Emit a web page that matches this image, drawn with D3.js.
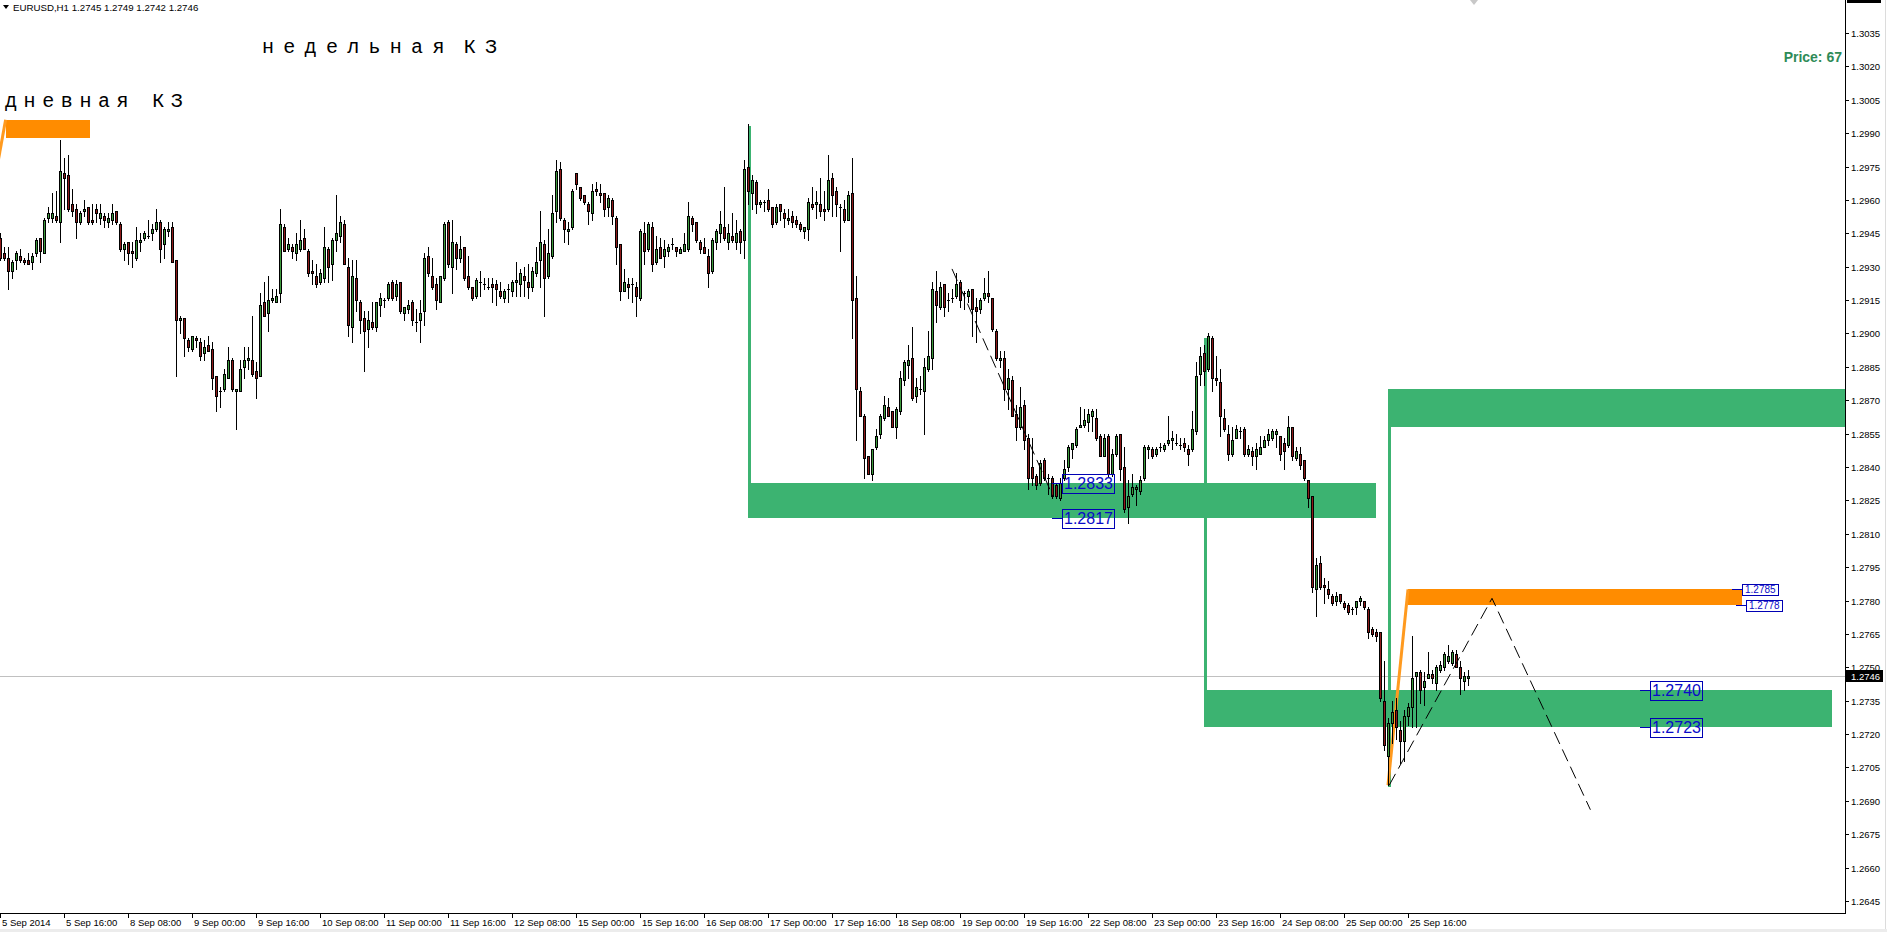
<!DOCTYPE html>
<html>
<head>
<meta charset="utf-8">
<script src="https://cdn.jsdelivr.net/npm/d3@7"></script>
<style>
  html, body { margin: 0; padding: 0; background: #fff; overflow: hidden; }
  svg { display: block; }
</style>
</head>
<body>
<script>
// chart frame
var W = 1887, H = 932,
  plotRight = 1845,
  plotBottom = 913;

// EURUSD H1 bars, [open, high, low, close]
var candles = [
  [1.2943,1.2945,1.2933,1.2934],[1.2936,1.2939,1.2933,1.2934],[1.2934,1.2939,1.2920,1.2928],[1.2928,1.2933,1.2925,1.2932],
  [1.2933,1.2937,1.2929,1.2936],[1.2935,1.2938,1.2932,1.2933],[1.2933,1.2934,1.2931,1.2932],[1.2933,1.2936,1.2931,1.2931],
  [1.2932,1.2936,1.2929,1.2935],[1.2936,1.2943,1.2935,1.2942],[1.2943,1.2943,1.2932,1.2937],[1.2936,1.2952,1.2936,1.2951],
  [1.2952,1.2957,1.2950,1.2954],[1.2952,1.2963,1.2950,1.2954],[1.2953,1.2964,1.2950,1.2951],[1.2950,1.2987,1.2941,1.2973],
  [1.2972,1.2979,1.2956,1.2970],[1.2971,1.2980,1.2955,1.2956],[1.2958,1.2965,1.2953,1.2955],[1.2956,1.2958,1.2943,1.2950],
  [1.2950,1.2955,1.2949,1.2954],[1.2955,1.2960,1.2953,1.2956],[1.2957,1.2957,1.2949,1.2950],[1.2951,1.2958,1.2949,1.2950],
  [1.2956,1.2958,1.2950,1.2954],[1.2952,1.2958,1.2949,1.2954],[1.2953,1.2954,1.2948,1.2951],[1.2950,1.2954,1.2948,1.2952],
  [1.2951,1.2958,1.2949,1.2954],[1.2955,1.2955,1.2949,1.2950],[1.2949,1.2950,1.2937,1.2938],[1.2938,1.2941,1.2933,1.2940],
  [1.2941,1.2941,1.2931,1.2936],[1.2937,1.2941,1.2930,1.2936],[1.2934,1.2948,1.2933,1.2942],[1.2941,1.2945,1.2937,1.2942],
  [1.2943,1.2946,1.2942,1.2945],[1.2944,1.2951,1.2943,1.2944],[1.2945,1.2949,1.2942,1.2947],[1.2947,1.2956,1.2946,1.2950],
  [1.2950,1.2951,1.2932,1.2938],[1.2940,1.2948,1.2934,1.2947],[1.2946,1.2950,1.2944,1.2947],[1.2948,1.2950,1.2932,1.2932],
  [1.2933,1.2933,1.2881,1.2906],[1.2906,1.2908,1.2900,1.2907],[1.2907,1.2907,1.2890,1.2898],[1.2897,1.2898,1.2892,1.2894],
  [1.2893,1.2899,1.2892,1.2899],[1.2898,1.2899,1.2894,1.2897],[1.2896,1.2898,1.2888,1.2890],[1.2891,1.2897,1.2888,1.2894],
  [1.2895,1.2899,1.2892,1.2892],[1.2893,1.2896,1.2875,1.2880],[1.2881,1.2881,1.2865,1.2872],[1.2874,1.2876,1.2867,1.2874],
  [1.2875,1.2884,1.2874,1.2882],[1.2880,1.2894,1.2880,1.2888],[1.2888,1.2889,1.2874,1.2875],[1.2874,1.2875,1.2857,1.2875],
  [1.2874,1.2888,1.2874,1.2884],[1.2885,1.2894,1.2880,1.2888],[1.2888,1.2894,1.2884,1.2889],[1.2888,1.2908,1.2881,1.2882],
  [1.2883,1.2887,1.2871,1.2880],[1.2881,1.2918,1.2881,1.2913],[1.2914,1.2923,1.2908,1.2908],[1.2909,1.2926,1.2901,1.2915],
  [1.2915,1.2920,1.2914,1.2916],[1.2914,1.2920,1.2914,1.2917],[1.2918,1.2956,1.2914,1.2949],[1.2948,1.2949,1.2937,1.2937],
  [1.2938,1.2943,1.2937,1.2940],[1.2939,1.2940,1.2934,1.2937],[1.2936,1.2945,1.2933,1.2940],[1.2938,1.2951,1.2937,1.2942],
  [1.2943,1.2947,1.2938,1.2938],[1.2937,1.2938,1.2926,1.2927],[1.2928,1.2933,1.2922,1.2927],[1.2926,1.2931,1.2921,1.2922],
  [1.2923,1.2929,1.2922,1.2927],[1.2925,1.2948,1.2923,1.2939],[1.2938,1.2939,1.2923,1.2930],[1.2931,1.2943,1.2924,1.2942],
  [1.2942,1.2962,1.2937,1.2945],[1.2944,1.2953,1.2941,1.2950],[1.2949,1.2951,1.2931,1.2931],[1.2930,1.2934,1.2899,1.2904],
  [1.2903,1.2933,1.2896,1.2926],[1.2925,1.2933,1.2910,1.2915],[1.2914,1.2915,1.2900,1.2906],[1.2907,1.2910,1.2883,1.2901],
  [1.2902,1.2910,1.2894,1.2906],[1.2905,1.2914,1.2902,1.2903],[1.2903,1.2914,1.2901,1.2914],[1.2913,1.2918,1.2908,1.2916],
  [1.2915,1.2916,1.2912,1.2915],[1.2916,1.2923,1.2915,1.2922],[1.2923,1.2924,1.2915,1.2916],[1.2917,1.2924,1.2915,1.2922],
  [1.2923,1.2923,1.2909,1.2910],[1.2909,1.2912,1.2906,1.2912],[1.2911,1.2915,1.2909,1.2913],[1.2914,1.2915,1.2904,1.2906],
  [1.2905,1.2911,1.2901,1.2905],[1.2906,1.2915,1.2896,1.2909],[1.2910,1.2936,1.2904,1.2934],[1.2935,1.2939,1.2926,1.2927],
  [1.2926,1.2934,1.2920,1.2921],[1.2922,1.2925,1.2911,1.2915],[1.2914,1.2926,1.2914,1.2926],[1.2925,1.2950,1.2924,1.2949],
  [1.2950,1.2951,1.2930,1.2931],[1.2930,1.2951,1.2918,1.2941],[1.2940,1.2941,1.2929,1.2934],[1.2934,1.2944,1.2932,1.2938],
  [1.2939,1.2939,1.2924,1.2925],[1.2926,1.2935,1.2920,1.2921],[1.2921,1.2921,1.2915,1.2916],[1.2917,1.2925,1.2916,1.2924],
  [1.2923,1.2928,1.2917,1.2923],[1.2922,1.2925,1.2920,1.2922],[1.2921,1.2925,1.2920,1.2921],[1.2922,1.2925,1.2914,1.2921],
  [1.2922,1.2924,1.2913,1.2920],[1.2919,1.2923,1.2916,1.2917],[1.2916,1.2920,1.2914,1.2919],[1.2920,1.2922,1.2914,1.2920],
  [1.2919,1.2924,1.2917,1.2923],[1.2923,1.2932,1.2917,1.2924],[1.2922,1.2929,1.2917,1.2927],[1.2926,1.2930,1.2917,1.2924],
  [1.2923,1.2931,1.2916,1.2921],[1.2921,1.2930,1.2919,1.2928],[1.2927,1.2939,1.2926,1.2932],[1.2933,1.2955,1.2921,1.2941],
  [1.2940,1.2942,1.2908,1.2925],[1.2926,1.2947,1.2925,1.2936],[1.2935,1.2962,1.2934,1.2954],[1.2955,1.2978,1.2950,1.2973],
  [1.2974,1.2977,1.2951,1.2952],[1.2951,1.2952,1.2941,1.2947],[1.2946,1.2950,1.2940,1.2947],[1.2948,1.2965,1.2947,1.2964],
  [1.2972,1.2972,1.2965,1.2967],[1.2966,1.2966,1.2960,1.2961],[1.2962,1.2962,1.2958,1.2959],[1.2958,1.2959,1.2949,1.2955],
  [1.2954,1.2967,1.2951,1.2964],[1.2965,1.2968,1.2962,1.2964],[1.2963,1.2967,1.2959,1.2962],[1.2963,1.2963,1.2953,1.2956],
  [1.2957,1.2962,1.2953,1.2961],[1.2960,1.2961,1.2949,1.2953],[1.2952,1.2953,1.2931,1.2939],[1.2940,1.2940,1.2915,1.2919],
  [1.2919,1.2929,1.2919,1.2923],[1.2922,1.2925,1.2916,1.2921],[1.2922,1.2925,1.2914,1.2922],[1.2921,1.2923,1.2908,1.2917],
  [1.2916,1.2947,1.2915,1.2946],[1.2945,1.2950,1.2931,1.2937],[1.2938,1.2950,1.2937,1.2949],[1.2948,1.2950,1.2928,1.2931],
  [1.2932,1.2944,1.2931,1.2938],[1.2939,1.2943,1.2934,1.2934],[1.2935,1.2942,1.2930,1.2938],[1.2937,1.2940,1.2935,1.2939],
  [1.2940,1.2943,1.2938,1.2940],[1.2939,1.2939,1.2935,1.2937],[1.2936,1.2939,1.2936,1.2938],[1.2937,1.2945,1.2937,1.2940],
  [1.2938,1.2959,1.2937,1.2953],[1.2952,1.2953,1.2946,1.2949],[1.2950,1.2950,1.2941,1.2942],[1.2941,1.2942,1.2936,1.2938],
  [1.2939,1.2943,1.2936,1.2936],[1.2935,1.2938,1.2921,1.2927],[1.2928,1.2943,1.2927,1.2942],[1.2941,1.2947,1.2938,1.2946],
  [1.2945,1.2955,1.2941,1.2949],[1.2948,1.2966,1.2942,1.2943],[1.2941,1.2949,1.2938,1.2945],[1.2944,1.2954,1.2941,1.2942],
  [1.2941,1.2951,1.2938,1.2945],[1.2946,1.2947,1.2936,1.2941],[1.2942,1.2978,1.2934,1.2974],[1.2975,1.2994,1.2958,1.2964],
  [1.2963,1.2971,1.2956,1.2969],[1.2968,1.2969,1.2954,1.2958],[1.2958,1.2960,1.2957,1.2959],[1.2959,1.2960,1.2955,1.2959],
  [1.2960,1.2965,1.2955,1.2956],[1.2957,1.2957,1.2948,1.2949],[1.2950,1.2958,1.2949,1.2957],[1.2958,1.2958,1.2951,1.2955],
  [1.2954,1.2956,1.2948,1.2952],[1.2951,1.2956,1.2949,1.2952],[1.2953,1.2955,1.2948,1.2950],[1.2951,1.2953,1.2948,1.2949],
  [1.2949,1.2950,1.2946,1.2947],[1.2946,1.2948,1.2943,1.2948],[1.2947,1.2961,1.2942,1.2959],[1.2958,1.2966,1.2956,1.2957],
  [1.2958,1.2964,1.2952,1.2959],[1.2958,1.2970,1.2953,1.2955],[1.2956,1.2964,1.2951,1.2955],[1.2956,1.2980,1.2955,1.2969],
  [1.2970,1.2972,1.2953,1.2962],[1.2964,1.2966,1.2953,1.2958],[1.2957,1.2958,1.2937,1.2957],[1.2956,1.2960,1.2950,1.2951],
  [1.2951,1.2964,1.2951,1.2962],[1.2963,1.2979,1.2898,1.2915],[1.2916,1.2926,1.2852,1.2875],[1.2874,1.2876,1.2863,1.2863],
  [1.2863,1.2864,1.2835,1.2844],[1.2845,1.2845,1.2837,1.2837],[1.2837,1.2848,1.2834,1.2848],[1.2849,1.2857,1.2848,1.2854],
  [1.2855,1.2864,1.2853,1.2863],[1.2862,1.2872,1.2861,1.2868],[1.2867,1.2871,1.2863,1.2863],[1.2865,1.2865,1.2858,1.2858],
  [1.2858,1.2867,1.2853,1.2866],[1.2865,1.2883,1.2864,1.2880],[1.2879,1.2888,1.2877,1.2887],[1.2886,1.2895,1.2880,1.2888],
  [1.2889,1.2903,1.2870,1.2871],[1.2872,1.2880,1.2869,1.2876],[1.2875,1.2881,1.2873,1.2875],[1.2874,1.2889,1.2855,1.2885],
  [1.2884,1.2901,1.2883,1.2890],[1.2889,1.2923,1.2884,1.2920],[1.2919,1.2928,1.2905,1.2913],[1.2912,1.2923,1.2911,1.2921],
  [1.2922,1.2922,1.2908,1.2912],[1.2915,1.2918,1.2910,1.2915],[1.2916,1.2920,1.2914,1.2916],[1.2917,1.2927,1.2916,1.2922],
  [1.2923,1.2924,1.2912,1.2915],[1.2918,1.2919,1.2911,1.2918],[1.2917,1.2920,1.2914,1.2919],[1.2920,1.2920,1.2899,1.2911],
  [1.2912,1.2916,1.2896,1.2910],[1.2911,1.2916,1.2909,1.2915],[1.2916,1.2925,1.2915,1.2918],[1.2918,1.2928,1.2914,1.2917],
  [1.2916,1.2916,1.2901,1.2902],[1.2901,1.2902,1.2888,1.2889],[1.2888,1.2892,1.2885,1.2889],[1.2889,1.2892,1.2870,1.2875],
  [1.2875,1.2884,1.2866,1.2880],[1.2879,1.2881,1.2863,1.2863],[1.2864,1.2868,1.2852,1.2858],[1.2858,1.2876,1.2857,1.2867],
  [1.2868,1.2870,1.2848,1.2852],[1.2853,1.2855,1.2830,1.2835],[1.2840,1.2853,1.2832,1.2835],[1.2836,1.2837,1.2830,1.2832],
  [1.2833,1.2843,1.2832,1.2842],[1.2843,1.2844,1.2834,1.2835],[1.2835,1.2837,1.2828,1.2835],[1.2835,1.2836,1.2826,1.2827],
  [1.2832,1.2833,1.2826,1.2827],[1.2826,1.2835,1.2825,1.2833],[1.2835,1.2843,1.2834,1.2839],[1.2840,1.2850,1.2838,1.2849],
  [1.2848,1.2851,1.2844,1.2851],[1.2850,1.2858,1.2849,1.2857],[1.2858,1.2867,1.2858,1.2859],[1.2859,1.2866,1.2858,1.2861],
  [1.2860,1.2866,1.2856,1.2864],[1.2863,1.2866,1.2856,1.2865],[1.2862,1.2866,1.2852,1.2853],[1.2854,1.2855,1.2845,1.2845],
  [1.2845,1.2855,1.2845,1.2853],[1.2854,1.2855,1.2836,1.2837],[1.2837,1.2848,1.2836,1.2846],[1.2846,1.2855,1.2845,1.2854],
  [1.2855,1.2855,1.2834,1.2839],[1.2840,1.2849,1.2820,1.2821],[1.2822,1.2834,1.2815,1.2827],[1.2828,1.2837,1.2827,1.2831],
  [1.2830,1.2832,1.2823,1.2831],[1.2829,1.2836,1.2828,1.2834],[1.2835,1.2850,1.2834,1.2849],[1.2848,1.2850,1.2844,1.2849],
  [1.2848,1.2849,1.2844,1.2845],[1.2846,1.2849,1.2845,1.2848],[1.2849,1.2851,1.2847,1.2849],[1.2848,1.2851,1.2847,1.2850],
  [1.2851,1.2863,1.2850,1.2852],[1.2852,1.2856,1.2848,1.2853],[1.2851,1.2855,1.2850,1.2851],[1.2850,1.2853,1.2848,1.2850],
  [1.2851,1.2853,1.2847,1.2849],[1.2848,1.2850,1.2841,1.2846],[1.2848,1.2865,1.2847,1.2857],[1.2856,1.2887,1.2855,1.2881],
  [1.2882,1.2894,1.2877,1.2890],[1.2891,1.2895,1.2877,1.2883],[1.2884,1.2900,1.2883,1.2899],[1.2898,1.2899,1.2874,1.2880],
  [1.2880,1.2890,1.2877,1.2879],[1.2878,1.2884,1.2854,1.2863],[1.2862,1.2866,1.2856,1.2857],[1.2855,1.2859,1.2843,1.2846],
  [1.2846,1.2858,1.2845,1.2852],[1.2853,1.2859,1.2853,1.2857],[1.2856,1.2858,1.2853,1.2856],[1.2857,1.2858,1.2845,1.2846],
  [1.2846,1.2850,1.2845,1.2848],[1.2847,1.2849,1.2841,1.2845],[1.2845,1.2851,1.2839,1.2848],[1.2846,1.2854,1.2846,1.2849],
  [1.2849,1.2854,1.2849,1.2852],[1.2852,1.2857,1.2850,1.2855],[1.2853,1.2857,1.2852,1.2856],[1.2855,1.2857,1.2849,1.2856],
  [1.2854,1.2854,1.2843,1.2846],[1.2851,1.2853,1.2839,1.2847],[1.2850,1.2863,1.2849,1.2858],[1.2858,1.2858,1.2843,1.2845],
  [1.2844,1.2849,1.2843,1.2847],[1.2846,1.2849,1.2839,1.2841],[1.2843,1.2843,1.2834,1.2835],[1.2834,1.2834,1.2822,1.2826],
  [1.2827,1.2827,1.2784,1.2786],[1.2785,1.2799,1.2773,1.2796],[1.2797,1.2800,1.2785,1.2786],[1.2787,1.2790,1.2779,1.2786],
  [1.2785,1.2789,1.2781,1.2783],[1.2782,1.2783,1.2778,1.2779],[1.2780,1.2784,1.2778,1.2782],[1.2783,1.2783,1.2779,1.2780],
  [1.2779,1.2780,1.2776,1.2777],[1.2778,1.2779,1.2774,1.2775],[1.2776,1.2777,1.2774,1.2776],[1.2777,1.2780,1.2774,1.2780],
  [1.2780,1.2782,1.2778,1.2781],[1.2780,1.2780,1.2776,1.2777],[1.2776,1.2777,1.2763,1.2766],[1.2767,1.2768,1.2764,1.2765],
  [1.2766,1.2767,1.2762,1.2764],[1.2766,1.2766,1.2735,1.2736],[1.2735,1.2753,1.2713,1.2715],[1.2710,1.2727,1.2697,1.2725],
  [1.2725,1.2735,1.2716,1.2730],[1.2731,1.2736,1.2718,1.2723],[1.2722,1.2726,1.2707,1.2717],[1.2717,1.2731,1.2708,1.2728],
  [1.2728,1.2734,1.2724,1.2732],[1.2732,1.2764,1.2723,1.2745],[1.2746,1.2748,1.2723,1.2748],[1.2748,1.2749,1.2734,1.2740],
  [1.2741,1.2748,1.2733,1.2744],[1.2745,1.2757,1.2745,1.2747],[1.2747,1.2749,1.2743,1.2745],[1.2743,1.2751,1.2740,1.2750],
  [1.2749,1.2753,1.2748,1.2751],[1.2750,1.2757,1.2749,1.2756],[1.2753,1.2760,1.2752,1.2755],[1.2752,1.2758,1.2751,1.2757],
  [1.2756,1.2758,1.2750,1.2750],[1.2750,1.2753,1.2738,1.2745],[1.2744,1.2748,1.2740,1.2746],[1.2745,1.2749,1.2742,1.2746]
];

var lastPrice = 1.2746;

var timeLabels = [
  "5 Sep 2014", "5 Sep 16:00", "8 Sep 08:00", "9 Sep 00:00", "9 Sep 16:00", "10 Sep 08:00",
  "11 Sep 00:00", "11 Sep 16:00", "12 Sep 08:00", "15 Sep 00:00", "15 Sep 16:00", "16 Sep 08:00",
  "17 Sep 00:00", "17 Sep 16:00", "18 Sep 08:00", "19 Sep 00:00", "19 Sep 16:00", "22 Sep 08:00",
  "23 Sep 00:00", "23 Sep 16:00", "24 Sep 08:00", "25 Sep 00:00", "25 Sep 16:00"
];
var barsPerLabel = 16;

var priceTicks = [
  1.2645, 1.2660, 1.2675, 1.2690, 1.2705, 1.2720, 1.2735, 1.2750, 1.2765, 1.2780,
  1.2795, 1.2810, 1.2825, 1.2840, 1.2855, 1.2870, 1.2885, 1.2900, 1.2915, 1.2930,
  1.2945, 1.2960, 1.2975, 1.2990, 1.3005, 1.3020, 1.3035
];

// supply / demand zones: bar range and price range, with the stem price it starts from
var greenZones = [
  { from: 187, to: 344, top: 1.2833, bottom: 1.2817, stemTop: 1.2993 },
  { from: 301, to: 458, top: 1.2740, bottom: 1.2723, stemTop: 1.2898 },
  { from: 347, to: 520, top: 1.2875, bottom: 1.2858, stemBottom: 1.2696 }
];
var orangeZones = [
  { from: 1.4, to: 22.6, top: 1.2996, bottom: 1.2988 },
  { from: 352, to: 435.6, top: 1.2785, bottom: 1.2778 }
];
var orangeLegs = [
  [[-0.5, 1.2977], [1.4, 1.2996]],
  [[347, 1.2697], [352, 1.2785]]
];
var dashLines = [
  [[238, 1.2929], [263.2, 1.2827]],
  [[347.3, 1.2697], [373, 1.2781], [397.6, 1.2686]]
];
var priceTags = [
  { bar: 263, price: 1.2833, big: true },
  { bar: 263, price: 1.2817, big: true },
  { bar: 410, price: 1.2740, big: true },
  { bar: 410, price: 1.2723, big: true },
  { bar: 433.1, price: 1.2785, big: false },
  { bar: 434.1, price: 1.2778, big: false }
];

var headerText = "EURUSD,H1  1.2745 1.2749 1.2742 1.2746";
var weeklyText = "недельная КЗ";
var dailyText = "дневная КЗ";
var infoText = "Price: 67";

// scales: 4 px per bar, price to pixel
var xBar = d3.scaleLinear().domain([0, 1]).range([0, 4]);
var yPrice = d3.scaleLinear().domain([1.2645, 1.3035]).range([901, 33]);
function px(b) { return Math.round(xBar(b)); }
function py(p) { return Math.round(yPrice(p)); }

var svg = d3
  .select("body")
  .append("svg")
  .attr("width", W)
  .attr("height", H)
  .style("font-family", "'Liberation Sans', Arial, sans-serif");

svg
  .append("defs")
  .append("clipPath")
  .attr("id", "plotClip")
  .append("rect")
  .attr("x", 0)
  .attr("y", 0)
  .attr("width", plotRight)
  .attr("height", plotBottom);

var plot = svg.append("g").attr("clip-path", "url(#plotClip)");

// current price line
plot
  .append("line")
  .attr("x1", 0)
  .attr("x2", plotRight)
  .attr("y1", py(lastPrice) + 0.5)
  .attr("y2", py(lastPrice) + 0.5)
  .attr("stroke", "#c0c0c0");

// green zones + their stems
var zoneG = plot.selectAll("g.zone").data(greenZones).enter().append("g");
zoneG
  .append("rect")
  .attr("x", function(d) { return px(d.from); })
  .attr("width", function(d) { return px(d.to) - px(d.from); })
  .attr("y", function(d) { return py(d.top); })
  .attr("height", function(d) { return py(d.bottom) - py(d.top); })
  .attr("fill", "#3cb371");
zoneG
  .append("line")
  .attr("x1", function(d) { return px(d.from) + 1.5; })
  .attr("x2", function(d) { return px(d.from) + 1.5; })
  .attr("y1", function(d) { return py(d.stemTop || d.top); })
  .attr("y2", function(d) { return py(d.stemBottom || d.bottom); })
  .attr("stroke", "#3cb371")
  .attr("stroke-width", 3);

// orange zones
plot
  .selectAll("rect.orange")
  .data(orangeZones)
  .enter()
  .append("rect")
  .attr("x", function(d) { return px(d.from); })
  .attr("width", function(d) { return px(d.to) - px(d.from); })
  .attr("y", function(d) { return py(d.top); })
  .attr("height", function(d) { return py(d.bottom) - py(d.top); })
  .attr("fill", "#ff8c00");

var lineGen = d3
  .line()
  .x(function(d) { return xBar(d[0]); })
  .y(function(d) { return yPrice(d[1]); });

plot
  .selectAll("path.leg")
  .data(orangeLegs)
  .enter()
  .append("path")
  .attr("d", lineGen)
  .attr("fill", "none")
  .attr("stroke", "#ff9a1f")
  .attr("stroke-width", 3);

// candles
var cg = plot.selectAll("g.candle").data(candles).enter().append("g");
cg.append("line")
  .attr("x1", function(d, i) { return px(i) + 0.5; })
  .attr("x2", function(d, i) { return px(i) + 0.5; })
  .attr("y1", function(d) { return py(d[1]); })
  .attr("y2", function(d) { return py(d[2]) + 1; })
  .attr("stroke", "#000");
cg.each(function(d, i) {
  var g = d3.select(this);
  var top = py(Math.max(d[0], d[3])),
    bot = py(Math.min(d[0], d[3])),
    cx = px(i);
  if (bot - top < 1) {
    g.append("line")
      .attr("x1", cx - 1)
      .attr("x2", cx + 2)
      .attr("y1", top + 0.5)
      .attr("y2", top + 0.5)
      .attr("stroke", "#000");
  } else {
    g.append("rect")
      .attr("x", cx - 0.5)
      .attr("y", top + 0.5)
      .attr("width", 2)
      .attr("height", bot - top)
      .attr("fill", d[3] >= d[0] ? "#3c9a3c" : "#8e1a1a")
      .attr("stroke", "#000");
  }
});

// dashed trend lines
plot
  .selectAll("path.dash")
  .data(dashLines)
  .enter()
  .append("path")
  .attr("d", lineGen)
  .attr("fill", "none")
  .attr("stroke", "#000")
  .attr("stroke-width", 1)
  .attr("stroke-dasharray", "13,6");

// price tags
priceTags.forEach(function(t) {
  var x0 = px(t.bar),
    yy = py(t.price),
    tick = 10,
    fs = t.big ? 16 : 10,
    h = t.big ? 19 : 11;
  plot
    .append("line")
    .attr("x1", x0)
    .attr("x2", x0 + tick)
    .attr("y1", yy + 0.5)
    .attr("y2", yy + 0.5)
    .attr("stroke", "#0000b4");
  var txt = plot
    .append("text")
    .attr("x", x0 + tick + (t.big ? 2 : 3))
    .attr("y", yy + fs * 0.36)
    .attr("font-size", fs)
    .attr("fill", "#0a0ac8")
    .text(t.price.toFixed(4));
  var w = txt.node().getComputedTextLength();
  plot
    .append("rect")
    .attr("x", x0 + tick + 0.5)
    .attr("y", yy - Math.floor(h / 2) + 0.5)
    .attr("width", Math.round(w) + (t.big ? 3 : 5))
    .attr("height", h)
    .attr("fill", "none")
    .attr("stroke", "#0000b4");
});

// axes
svg
  .append("line")
  .attr("x1", plotRight + 0.5)
  .attr("x2", plotRight + 0.5)
  .attr("y1", 0)
  .attr("y2", plotBottom + 1)
  .attr("stroke", "#000");
svg
  .append("line")
  .attr("x1", 0)
  .attr("x2", plotRight + 1)
  .attr("y1", plotBottom + 0.5)
  .attr("y2", plotBottom + 0.5)
  .attr("stroke", "#000");

var yTicks = svg.selectAll("g.ytick").data(priceTicks).enter().append("g");
yTicks
  .append("line")
  .attr("x1", plotRight + 1)
  .attr("x2", plotRight + 4)
  .attr("y1", function(d) { return py(d) + 0.5; })
  .attr("y2", function(d) { return py(d) + 0.5; })
  .attr("stroke", "#000");
yTicks
  .append("text")
  .attr("x", plotRight + 6)
  .attr("y", function(d) { return py(d) + 3.5; })
  .attr("font-size", 9.5)
  .attr("fill", "#000")
  .text(function(d) { return d.toFixed(4); });

var xTicks = svg.selectAll("g.xtick").data(timeLabels).enter().append("g");
xTicks
  .append("line")
  .attr("x1", function(d, i) { return px(i * barsPerLabel) + 0.5; })
  .attr("x2", function(d, i) { return px(i * barsPerLabel) + 0.5; })
  .attr("y1", plotBottom + 1)
  .attr("y2", plotBottom + 5)
  .attr("stroke", "#000");
xTicks
  .append("text")
  .attr("x", function(d, i) { return px(i * barsPerLabel) + 2; })
  .attr("y", plotBottom + 13)
  .attr("font-size", 9.5)
  .attr("fill", "#000")
  .text(function(d) { return d; });

// last price marker on the axis
svg
  .append("rect")
  .attr("x", plotRight + 1)
  .attr("y", py(lastPrice) - 6)
  .attr("width", 37)
  .attr("height", 12)
  .attr("fill", "#000");
svg
  .append("text")
  .attr("x", plotRight + 6)
  .attr("y", py(lastPrice) + 3.5)
  .attr("font-size", 9.5)
  .attr("fill", "#fff")
  .text(lastPrice.toFixed(4));

// marker cut off at the top of the axis
svg
  .append("rect")
  .attr("x", plotRight + 2)
  .attr("y", -9)
  .attr("width", 34)
  .attr("height", 12)
  .attr("fill", "#000");

// small grey shift marker at the top
svg
  .append("path")
  .attr("d", "M1470,0 L1478,0 L1474,5 Z")
  .attr("fill", "#c8c8c8");

// bottom strip and right border
svg
  .append("rect")
  .attr("x", 0)
  .attr("y", 929)
  .attr("width", W)
  .attr("height", 3)
  .attr("fill", "#ececec");
svg
  .append("line")
  .attr("x1", W - 1.5)
  .attr("x2", W - 1.5)
  .attr("y1", 0)
  .attr("y2", 929)
  .attr("stroke", "#dcdcdc");

// header
svg
  .append("path")
  .attr("d", "M3,5 L9,5 L6,9 Z")
  .attr("fill", "#000");
svg
  .append("text")
  .attr("x", 13)
  .attr("y", 10.5)
  .attr("font-size", 9.7)
  .attr("fill", "#000")
  .text(headerText);

// spaced-out annotation: each letter on a fixed step, the word gap slightly narrower
function spacedText(str, x0, y0, step, gap) {
  var xs = [], x = x0;
  str.split("").forEach(function(ch) {
    xs.push(x.toFixed(1));
    x += ch === " " ? gap : step;
  });
  svg
    .append("text")
    .attr("x", xs.join(" "))
    .attr("y", y0)
    .attr("font-family", "'Liberation Mono', 'DejaVu Sans Mono', monospace")
    .attr("font-size", 20)
    .attr("fill", "#000")
    .text(str);
}
spacedText(weeklyText, 262, 53, 21.3, 10);
spacedText(dailyText, 5, 107, 18.6, 17);

svg
  .append("text")
  .attr("x", 1842)
  .attr("y", 62)
  .attr("text-anchor", "end")
  .attr("font-size", 14)
  .attr("font-weight", "bold")
  .attr("fill", "#2e8b57")
  .text(infoText);
</script>
</body>
</html>
